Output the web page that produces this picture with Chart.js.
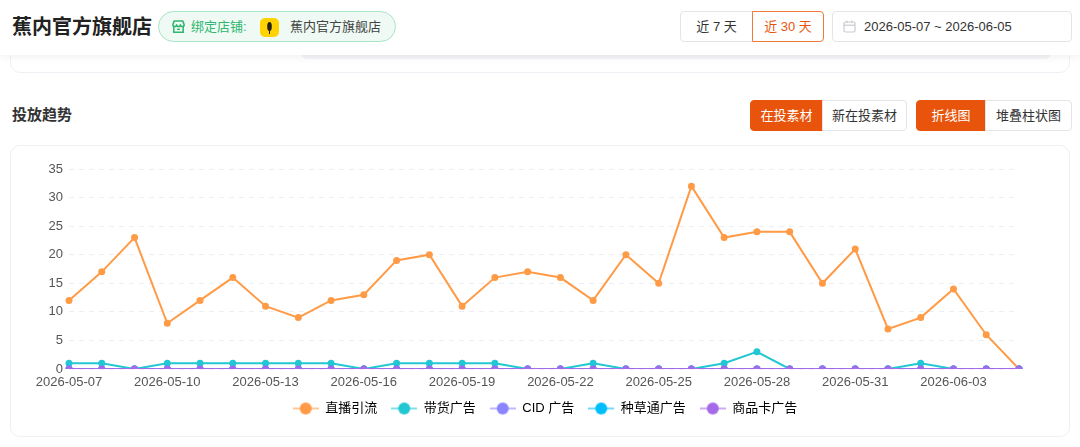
<!DOCTYPE html>
<html>
<head>
<meta charset="utf-8">
<script src="https://cdn.jsdelivr.net/npm/chart.js@4/dist/chart.umd.min.js"></script>
<style>
  * { box-sizing: border-box; margin: 0; padding: 0; }
  body {
    width: 1080px; height: 447px; overflow: hidden; background: #fff; position: relative;
    font-family: "Liberation Sans", "Noto Sans CJK SC", sans-serif; color: #333;
  }
  .abs { position: absolute; }
  .peek { left: 10px; top: 30px; width: 1060px; height: 43px; border: 1px solid #eef0f6; border-radius: 10px; background: #fff; }
  .peek-bar { left: 300px; top: 30px; width: 752px; height: 29px; background: #f3f4f7; border-radius: 8px; }
  .header { left: 0; top: 0; width: 1080px; height: 55px; background: #fff; box-shadow: 0 3px 8px rgba(0,0,0,0.05); }
  .title { left: 12px; top: 13px; font-size: 20px; font-weight: bold; color: #222; line-height: 28px; }
  .badge { left: 158px; top: 11px; width: 238px; height: 31px; border: 1px solid #a9e4c6; background: #eefaf3; border-radius: 16px; }
  .badge .lbl { position: absolute; left: 32px; top: 6px; font-size: 13px; color: #2fb56f; line-height: 18px; }
  .badge .logo { position: absolute; left: 101px; top: 6px; width: 19px; height: 19px; border-radius: 5px; background: #ffd200; }
  .badge .name { position: absolute; left: 131px; top: 6px; font-size: 13px; color: #444; line-height: 18px; }
  .seg { top: 11px; height: 31px; font-size: 13px; line-height: 29px; text-align: center; border: 1px solid #e3e5ea; background: #fff; color: #333; }
  .btn { top: 100px; height: 31px; font-size: 13px; line-height: 29px; text-align: center; border: 1px solid #e3e5ea; background: #fff; color: #333; }
  .btn.on { background: #e8540c; border-color: #e8540c; color: #fff; }
  .date { left: 832px; top: 11px; width: 240px; height: 31px; border: 1px solid #e3e5ea; border-radius: 4px; background: #fff; }
  .date span { position: absolute; left: 31px; top: 6px; font-size: 13px; color: #333; line-height: 18px; }
  .sect { left: 12px; top: 105px; font-size: 15px; font-weight: bold; color: #333; line-height: 20px; }
  .card { left: 10px; top: 145px; width: 1060px; height: 292px; border: 1px solid #eef0f6; border-radius: 10px; background: #fff; }
  #chart { position: absolute; left: -1px; top: -1px; }
</style>
</head>
<body>
<div class="abs peek"></div>
<div class="abs peek-bar"></div>
<div class="abs header"></div>
<div class="abs title">蕉内官方旗舰店</div>
<div class="abs badge">
  <svg style="position:absolute;left:12px;top:7px" width="15" height="15" viewBox="0 0 16 16">
    <path d="M2 6 L3.5 2 H12.5 L14 6 Q14 8 12 8 Q10 8 10 6 Q10 8 8 8 Q6 8 6 6 Q6 8 4 8 Q2 8 2 6 Z" fill="none" stroke="#2fb56f" stroke-width="1.6" stroke-linejoin="round"/>
    <path d="M3 8.5 V14 H13 V8.5" fill="none" stroke="#2fb56f" stroke-width="1.6"/>
    <path d="M6.5 11 H9.5" stroke="#2fb56f" stroke-width="1.6"/>
  </svg>
  <span class="lbl">绑定店铺:</span>
  <div class="logo">
    <svg width="19" height="19" viewBox="0 0 19 19">
      <ellipse cx="9.5" cy="8.5" rx="2.3" ry="4.5" fill="#222"/>
      <rect x="9" y="12" width="1" height="4" fill="#222"/>
    </svg>
  </div>
  <span class="name">蕉内官方旗舰店</span>
</div>
<div class="abs seg" style="left:680px;width:73px;border-radius:4px 0 0 4px;">近 7 天</div>
<div class="abs seg" style="left:752px;width:72px;border-radius:0 4px 4px 0;border-color:#ef7a3c;color:#e8540c;">近 30 天</div>
<div class="abs date">
  <svg style="position:absolute;left:10px;top:8px" width="13" height="13" viewBox="0 0 13 13">
    <rect x="1" y="2" width="11" height="10" rx="1.5" fill="none" stroke="#c8cbd2" stroke-width="1.2"/>
    <path d="M1 5.2 H12" stroke="#c8cbd2" stroke-width="1.2"/>
    <path d="M4 0.5 V3 M9 0.5 V3" stroke="#c8cbd2" stroke-width="1.2"/>
  </svg>
  <span>2026-05-07 ~ 2026-06-05</span>
</div>
<div class="abs sect">投放趋势</div>
<div class="abs btn on" style="left:750px;width:73px;border-radius:4px 0 0 4px;">在投素材</div>
<div class="abs btn" style="left:822px;width:85px;border-radius:0 4px 4px 0;">新在投素材</div>
<div class="abs btn on" style="left:916px;width:70px;border-radius:4px 0 0 4px;">折线图</div>
<div class="abs btn" style="left:985px;width:87px;border-radius:0 4px 4px 0;">堆叠柱状图</div>
<div class="abs card"><canvas id="chart" width="1060" height="292" style="width:1060px;height:292px"></canvas></div>

<script>
// dates shown on the x axis, 2026-05-07 .. 2026-06-05
const dates = [
  '2026-05-07', '2026-05-08', '2026-05-09', '2026-05-10', '2026-05-11', '2026-05-12',
  '2026-05-13', '2026-05-14', '2026-05-15', '2026-05-16', '2026-05-17', '2026-05-18',
  '2026-05-19', '2026-05-20', '2026-05-21', '2026-05-22', '2026-05-23', '2026-05-24',
  '2026-05-25', '2026-05-26', '2026-05-27', '2026-05-28', '2026-05-29', '2026-05-30',
  '2026-05-31', '2026-06-01', '2026-06-02', '2026-06-03', '2026-06-04', '2026-06-05'
];

const seriesNames = ['直播引流', '带货广告', 'CID 广告', '种草通广告', '商品卡广告'];
const seriesColors = ['#ff9b46', '#22c7d3', '#8c84ff', '#00bdfc', '#a46ae9'];

const liveTraffic = [12, 17, 23, 8, 12, 16, 11, 9, 12, 13, 19, 20, 11, 16, 17, 16, 12, 20, 15, 32, 23, 24, 24, 15, 21, 7, 9, 14, 6, 0];
const salesAds    = [1, 1, 0, 1, 1, 1, 1, 1, 1, 0, 1, 1, 1, 1, 0, 0, 1, 0, 0, 0, 1, 3, 0, 0, 0, 0, 1, 0, 0, 0];
const cidAds      = [0, 0, 0, 0, 0, 0, 0, 0, 0, 0, 0, 0, 0, 0, 0, 0, 0, 0, 0, 0, 0, 0, 0, 0, 0, 0, 0, 0, 0, 0];
const grassAds    = [0, 0, 0, 0, 0, 0, 0, 0, 0, 0, 0, 0, 0, 0, 0, 0, 0, 0, 0, 0, 0, 0, 0, 0, 0, 0, 0, 0, 0, 0];
const productAds  = [0, 0, 0, 0, 0, 0, 0, 0, 0, 0, 0, 0, 0, 0, 0, 0, 0, 0, 0, 0, 0, 0, 0, 0, 0, 0, 0, 0, 0, 0];

const yTicks = [0, 5, 10, 15, 20, 25, 30, 35];

const allValues = [liveTraffic, salesAds, cidAds, grassAds, productAds];

// legend icon: thin line with a dot in the middle
function legendIcon(color) {
  const c = document.createElement('canvas');
  c.width = 26; c.height = 14;
  const g = c.getContext('2d');
  g.strokeStyle = color;
  g.globalAlpha = 0.75;
  g.lineWidth = 1.5;
  g.beginPath(); g.moveTo(0, 7); g.lineTo(26, 7); g.stroke();
  g.globalAlpha = 1;
  g.fillStyle = color;
  g.beginPath(); g.arc(13, 7, 6, 0, Math.PI * 2); g.fill();
  return c;
}

const datasets = seriesNames.map((name, i) => ({
  label: name,
  data: allValues[i],
  borderColor: seriesColors[i],
  backgroundColor: seriesColors[i],
  borderWidth: 2,
  pointRadius: 2.5,
  pointHoverRadius: 3,
  tension: 0,
  yAxisID: 'y',
  order: seriesNames.length - i   // later series painted on top
}));

const font = { family: '"Liberation Sans", "Noto Sans CJK SC", sans-serif', size: 13 };

new Chart(document.getElementById('chart'), {
  type: 'line',
  data: { labels: dates, datasets },
  options: {
    responsive: false,
    animation: false,
    devicePixelRatio: window.devicePixelRatio || 1,
    layout: { padding: { left: 10, right: 0, top: 24, bottom: 12 } },
    plugins: {
      tooltip: { enabled: false },
      legend: {
        position: 'bottom',
        labels: {
          usePointStyle: true,
          pointStyleWidth: 26,
          padding: 14,
          color: '#333',
          font: { family: font.family, size: 13 },
          generateLabels: chart => chart.data.datasets.map((ds, i) => ({
            text: ds.label,
            datasetIndex: i,
            pointStyle: legendIcon(seriesColors[i]),
            fillStyle: seriesColors[i],
            strokeStyle: seriesColors[i],
            lineWidth: 0,
            hidden: false
          }))
        }
      }
    },
    scales: {
      x: {
        grid: { display: false, drawTicks: false },
        border: { display: false },
        ticks: {
          autoSkip: false,
          maxRotation: 0,
          padding: 6,
          color: '#555',
          font,
          callback: (v, i) => (i % 3 === 0 ? dates[i] : '')
        },
        afterFit: s => { s.height = 19; }
      },
      y: {
        min: 0,
        max: 35,
        afterBuildTicks: s => { s.ticks = yTicks.map(v => ({ value: v })); },
        grid: { color: '#eceef5', lineWidth: 1, drawTicks: false },
        border: { display: false, dash: [5, 5] },
        ticks: { color: '#555', font, padding: 6 },
        afterFit: s => { s.width = 49; }
      },
      // empty right-hand gutter so the legend stays centred on the card
      gutter: {
        position: 'right',
        grid: { display: false, drawTicks: false },
        border: { display: false },
        ticks: { display: false },
        afterFit: s => { s.width = 51; }
      }
    }
  }
});
</script>
</body>
</html>
